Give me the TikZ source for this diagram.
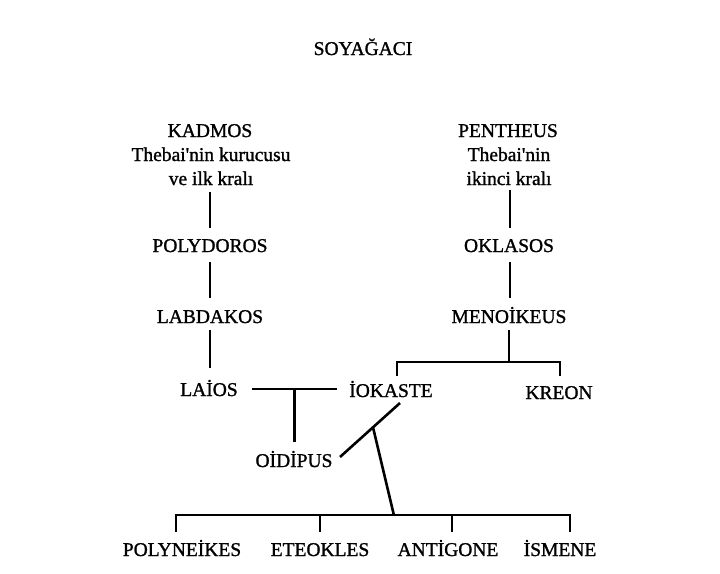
\documentclass[tikz,border=0pt]{standalone}
\usepackage{fontspec}
\newfontfamily\tf[FakeBold=1.2]{Liberation Serif}
\usetikzlibrary{calc}
\tikzset{
  lbl/.style={anchor=base, inner sep=0pt, font=\tf\fontsize{19.5}{24}\selectfont},
  conn/.style={line width=2.6pt, black}
}
\begin{document}
\begin{tikzpicture}[x=1pt,y=-1pt]
\useasboundingbox[fill=white] (0,0) rectangle (720,573);
% title
\node[lbl] (title) at (363,55) {SOYAĞACI};
% left column
\node[lbl] (kadmos) at (210,137) {KADMOS};
\node[lbl] (kadmos2) at (211,161) {Thebai'nin kurucusu};
\node[lbl] (kadmos3) at (211,185) {ve ilk kralı};
\node[lbl] (polydoros) at (210,252) {POLYDOROS};
\node[lbl] (labdakos) at (210,323) {LABDAKOS};
\node[lbl] (laios) at (209,396) {LAİOS};
% right column
\node[lbl] (pentheus) at (508,137) {PENTHEUS};
\node[lbl] (pentheus2) at (509,161) {Thebai'nin};
\node[lbl] (pentheus3) at (509,185) {ikinci kralı};
\node[lbl] (oklasos) at (509,252) {OKLASOS};
\node[lbl] (menoikeus) at (509,323) {MENOİKEUS};
\node[lbl] (iokaste) at (391,397) {İOKASTE};
\node[lbl] (kreon) at (559,399) {KREON};
\node[lbl] (oidipus) at (294,467) {OİDİPUS};
% children
\node[lbl] (polyneikes) at (182,556) {POLYNEİKES};
\node[lbl] (eteokles) at (320,556) {ETEOKLES};
\node[lbl] (antigone) at (448,556) {ANTİGONE};
\node[lbl] (ismene) at (560,556) {İSMENE};

% vertical lines, left
\draw[conn] ($(kadmos3.base)+(-1,7)$) -- ($(polydoros.base)+(0,-24)$);
\draw[conn] ($(polydoros.base)+(0,10)$) -- ($(labdakos.base)+(0,-25)$);
\draw[conn] ($(labdakos.base)+(0,7)$) -- ($(laios.base)+(1,-28)$);
% vertical lines, right
\draw[conn] ($(pentheus3.base)+(1,5)$) -- ($(oklasos.base)+(1,-24)$);
\draw[conn] ($(oklasos.base)+(1,10)$) -- ($(menoikeus.base)+(1,-25)$);
\coordinate (mb) at ($(menoikeus.base)+(0,39)$);
\draw[conn] ($(menoikeus.base)+(0,7)$) -- (mb);
\coordinate (mbl) at ($(iokaste.base)+(6,-21)$);
\coordinate (mbr) at ($(kreon.base)+(1,-23)$);
\draw[conn] (mbl) |- (mb) -| (mbr);
% Laios - Iokaste marriage
\coordinate (lj1) at ($(laios.base)+(43,-7)$);
\coordinate (lj2) at ($(iokaste.base)+(-54,-8)$);
\draw[conn] (lj1) -- (lj2);
\coordinate (lm) at ($(lj1)!0.5!(lj2)$);
\draw[conn] (lm) -- ($(lm |- oidipus.base)+(0,-25)$);
% Oidipus - Iokaste
\coordinate (d1) at ($(oidipus.base)+(46,-10)$);
\coordinate (d2) at ($(iokaste.base)+(9,6)$);
\draw[conn] (d1) -- (d2);
\coordinate (br) at ($(d1)!0.55!(d2)$);
% children bar
\coordinate (t1) at ($(polyneikes.base)+(-6,-41)$);
\coordinate (t2) at ($(eteokles.base)+(0,-41)$);
\coordinate (t3) at ($(antigone.base)+(4,-41)$);
\coordinate (t4) at ($(ismene.base)+(10,-41)$);
\coordinate (bj) at ($(t1)!0.553!(t4)$);
\draw[conn] (br) -- (bj);
\draw[conn] ($(t1)+(0,17)$) |- (t4) -- ++(0,17);
\draw[conn] (t2) -- ++(0,17);
\draw[conn] (t3) -- ++(0,17);
\end{tikzpicture}
\end{document}
